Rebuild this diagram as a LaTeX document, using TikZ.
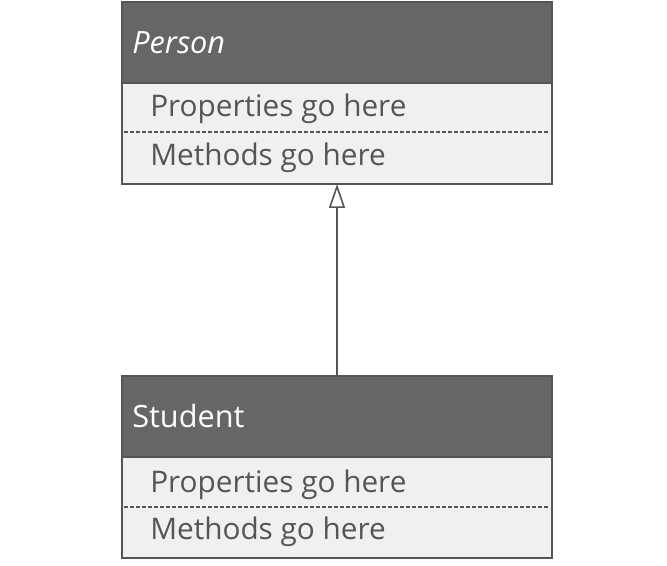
\documentclass[tikz,border=0pt]{standalone}
\usepackage{fontspec}
\setmainfont{Open Sans}
\usetikzlibrary{arrows.meta,positioning}
\definecolor{hdr}{HTML}{666666}
\definecolor{bodyc}{HTML}{F0F0F0}
\definecolor{edge}{HTML}{555555}
\definecolor{txt}{HTML}{555555}
\tikzset{
  hdrbox/.style={draw=edge,line width=1.5pt,fill=hdr,minimum width=322.5pt,minimum height=60.75pt,inner sep=0pt,outer sep=0pt},
  bodybox/.style={draw=edge,line width=1.5pt,fill=bodyc,minimum width=322.5pt,minimum height=75.75pt,inner sep=0pt,outer sep=0pt},
  hdrtext/.style={text=white,font=\fontsize{23}{27}\selectfont,anchor=west,inner sep=0pt},
  bodytext/.style={text=txt,font=\fontsize{22.3}{26}\selectfont,anchor=west,inner sep=0pt},
  sepline/.style={draw=edge,line width=0.9pt,dash pattern=on 3pt off 1.5pt},
  inherit/.style={draw=edge,line width=1.5pt,-{Triangle[open,length=18pt,width=12pt,line width=1.2pt]}}
}
\begin{document}
\begin{tikzpicture}[x=0.75pt,y=-0.75pt]
\useasboundingbox (0,0) rectangle (667,566);
% Person
\node[hdrbox,anchor=north west] (ph) at (122,2) {};
\node[bodybox,anchor=north west] (pb) at (122,83) {};
\node[hdrtext] (pt) at (132,43) {\itshape Person};
\node[bodytext] (pp) at (150,109) {Properties go here};
\node[bodytext] (pm) at (150,158) {Methods go here};
\coordinate (pl1) at (124,132);
\coordinate (pl2) at (549,132);
\draw[sepline] (pl1) -- (pl2);
% Student
\node[hdrbox,anchor=north west] (sh) at (122,376) {};
\node[bodybox,anchor=north west] (sb) at (122,457) {};
\node[hdrtext] (st) at (132,416) {Student};
\node[bodytext] (sp) at (150,485) {Properties go here};
\node[bodytext] (sm) at (150,532) {Methods go here};
\coordinate (sl1) at (124,507);
\coordinate (sl2) at (549,507);
\draw[sepline] (sl1) -- (sl2);
% inheritance
\draw[inherit] (sh.north -| 337,0) -- (pb.south -| 337,0);
\end{tikzpicture}
\end{document}
